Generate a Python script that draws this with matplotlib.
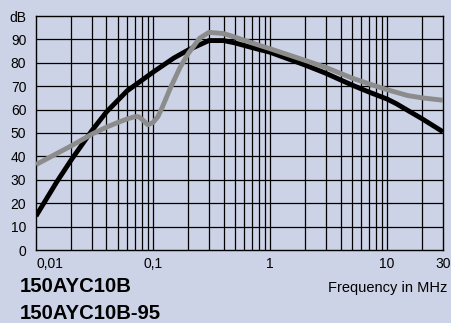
import matplotlib
matplotlib.use("Agg")
import matplotlib.pyplot as plt
import numpy as np

plt.rcParams['font.family'] = ['Liberation Sans', 'DejaVu Sans']

# Insertion loss curves, frequency in MHz vs attenuation in dB
freq_b = [0.01, 0.015, 0.02, 0.03, 0.04, 0.06, 0.08, 0.1, 0.15, 0.2, 0.3,
          0.4, 0.5, 0.7, 1, 2, 3, 5, 7, 10, 12, 20, 30]
db_b = [14.5, 29, 38.5, 51, 59, 68, 72.5, 76, 82, 85.5, 89.5,
        89.5, 88.5, 86.5, 84.5, 79, 75.5, 70.5, 67.5, 64.5, 62.5, 56, 50.5]

freq_b95 = [0.01, 0.02, 0.03, 0.04, 0.05, 0.06, 0.07, 0.075, 0.08, 0.09,
            0.1, 0.11, 0.12, 0.14, 0.17, 0.2, 0.25, 0.3, 0.4, 0.5, 0.7,
            1, 2, 3, 5, 7, 10, 15, 20, 30]
db_b95 = [36.5, 44.5, 49.5, 52.5, 54.5, 56, 57, 57, 56, 53.5,
          54.5, 57, 61, 69, 78, 84, 90.5, 93, 92.5, 91, 88.5,
          86, 81, 78, 73.5, 71, 68.5, 66, 65, 64]

x_ticks = [0.01, 0.1, 1, 10, 30]
x_labels = ["0,01", "0,1", "1", "10", "30"]
y_ticks = list(range(0, 101, 10))
y_labels = [str(v) for v in range(0, 100, 10)] + ["dB"]

bg = "#cdd3e6"
fig = plt.figure(figsize=(4.51, 3.23), dpi=100, facecolor=bg)
ax = fig.add_axes([36 / 451, 1 - 250 / 323, (443 - 36) / 451, (250 - 16) / 323])
ax.set_facecolor(bg)
ax.set_xscale("log")
ax.set_xlim(0.01, 30)
ax.set_ylim(0, 100)

# grid: every decade subdivision plus every 10 dB
grid_x = []
for dec in [0.01, 0.1, 1, 10]:
    for m in range(1, 10):
        v = dec * m
        if 0.01 < v < 30:
            grid_x.append(v)
for v in grid_x:
    ax.axvline(v, color="black", lw=0.9, zorder=1)
for v in range(10, 100, 10):
    ax.axhline(v, color="black", lw=0.9, zorder=1)
for s in ax.spines.values():
    s.set_color("black")
    s.set_linewidth(1.0)

ax.plot(freq_b, db_b, color="black", lw=3.5, solid_capstyle="butt",
        solid_joinstyle="round", zorder=3)
ax.plot(freq_b95, db_b95, color="#8c8c8c", lw=3.5, solid_capstyle="butt",
        solid_joinstyle="round", zorder=4)

ax.set_xticks(x_ticks)
ax.set_xticklabels(x_labels)
ax.xaxis.set_minor_locator(matplotlib.ticker.NullLocator())
ax.set_yticks(y_ticks)
ax.set_yticklabels(y_labels)
ax.tick_params(length=0, labelsize=10, pad=7, colors="black")
ax.tick_params(axis="x", pad=5)
ax.get_xticklabels()[0].set_horizontalalignment("left")

fig.text(447 / 451, 1 - 288 / 323, "Frequency in MHz", ha="right", va="center",
         fontsize=10.5)
fig.text(20 / 451, 1 - 286.5 / 323, "150AYC10B", ha="left", va="center",
         fontsize=14.6, fontweight="bold")
fig.text(20 / 451, 1 - 313.5 / 323, "150AYC10B-95", ha="left", va="center",
         fontsize=14.6, fontweight="bold")

fig.savefig("out.png", dpi=100, facecolor=bg)
